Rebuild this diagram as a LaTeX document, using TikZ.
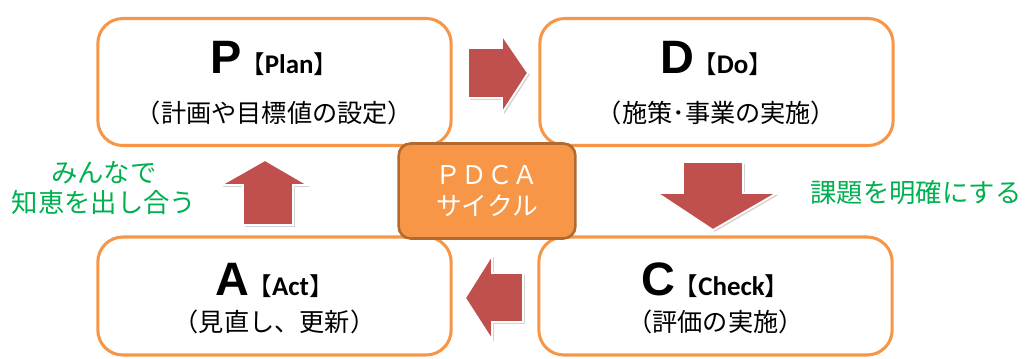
\documentclass[tikz,border=0pt]{standalone}
\usepackage{fontspec}
\setmainfont{Liberation Sans}
\newfontfamily\jpfont{Noto Sans CJK JP}
\newfontfamily\calfont{Carlito}
\usetikzlibrary{calc}
\usetikzlibrary{shadows}
\definecolor{orange}{HTML}{F79646}
\definecolor{darkorange}{HTML}{B2692F}
\definecolor{red}{HTML}{C0504D}
\definecolor{green}{HTML}{00B050}

\newcommand{\phasetitle}[2]{{\fontsize{40}{40}\selectfont\bfseries #1}\kern-0.15em{\jpfont\fontsize{21}{21}\selectfont 【}{\calfont\fontsize{23}{23}\selectfont\bfseries #2}{\jpfont\fontsize{21}{21}\selectfont 】}}

\tikzset{
  phase/.style={draw=orange, line width=2.6pt, rounded corners=0.75cm, fill=white, minimum width=10.6cm},
  sub/.style={font=\jpfont\fontsize{21.5}{21.5}\selectfont, inner sep=0pt},
  ttl/.style={anchor=base, inner sep=0pt},
  bigarrow/.style={fill=red, draw=white, line width=1.5pt, drop shadow={opacity=0.35, shadow xshift=1.5pt, shadow yshift=-1.5pt}},
  note/.style={text=green, font=\jpfont\fontsize{22.5}{25}\selectfont, align=center, inner sep=0pt}
}

\begin{document}
\begin{tikzpicture}[x=0.03cm, y=-0.03cm]
\useasboundingbox (0,0) rectangle (1027,358);

% the four phases

\node[phase, minimum height=3.81cm] (P) at (274.5,82) {};
\node[phase, minimum height=3.81cm] (D) at (716.5,82) {};
\node[phase, minimum height=3.54cm] (A) at (274.5,296) {};
\node[phase, minimum height=3.54cm] (C) at (715.5,296) {};

\node[ttl] (Pttl) at ($(P) + (0,-9)$) {\phasetitle{P}{Plan}};
\node[sub] (Psub) at ($(P) + (0,31)$) {（計画や目標値の設定）};
\node[ttl] (Dttl) at ($(D) + (0,-9)$) {\phasetitle{D}{Do}};
\node[sub] (Dsub) at ($(D) + (0,31)$) {（施策･事業の実施）};
\node[ttl] (Attl) at ($(A) + (0,-1)$) {\phasetitle{A}{Act}};
\node[sub] (Asub) at ($(A) + (0,26)$) {（見直し、更新）};
\node[ttl] (Cttl) at ($(C) + (0,-1)$) {\phasetitle{C}{Check}};
\node[sub] (Csub) at ($(C) + (0,26)$) {（評価の実施）};

% arrows

\coordinate (R) at (468,73);
\fill[bigarrow] ($(R) + (0,-25)$) -- ++(34,0) -- ++(0,-13) -- ($(R) + (60,0)$) -- ($(R) + (34,40)$) -- ++(0,-15) -- ($(R) + (0,25)$) -- cycle;

\coordinate (Dn) at (713,162);
\fill[bigarrow] ($(Dn) + (-30,0)$) -- ++(60,0) -- ++(0,31) -- ++(34,0) -- ($(Dn) + (0,68)$) -- ($(Dn) + (-56,31)$) -- ++(26,0) -- cycle;

\coordinate (L) at (523,298);
\fill[bigarrow] ($(L) + (0,-25)$) -- ++(-31,0) -- ++(0,-18) -- ($(L) + (-58,0)$) -- ($(L) + (-31,42)$) -- ++(0,-18) -- ($(L) + (0,24)$) -- cycle;

\coordinate (U) at (268,225);
\fill[bigarrow] ($(U) + (-25,0)$) -- ++(0,-40) -- ++(-22,0) -- ($(U) + (-3,-65)$) -- ($(U) + (40,-40)$) -- ++(-15,0) -- ($(U) + (25,0)$) -- cycle;

% centre

\node[draw=darkorange, fill=orange, line width=2.2pt, rounded corners=0.36cm, minimum width=5.3cm, minimum height=2.85cm, text=white, align=center, font=\jpfont\fontsize{22}{27}\selectfont] (PDCA) at (487,191) {ＰＤＣＡ\\サイクル};

% notes

\node[note] (team) at (104,188) {みんなで\\知恵を出し合う};
\node[note] (issue) at (916,193) {課題を明確にする};

\end{tikzpicture}
\end{document}
